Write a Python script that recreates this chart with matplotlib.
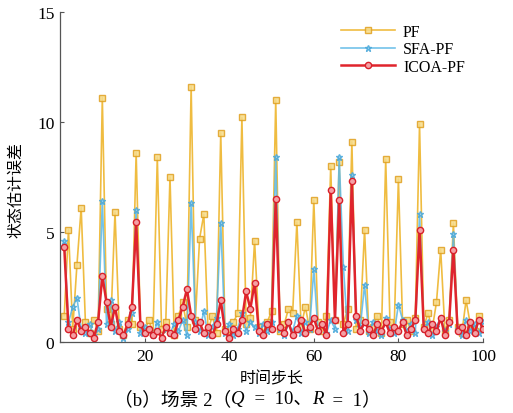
import matplotlib
matplotlib.use("Agg")
import matplotlib.pyplot as plt
import numpy as np

# time steps 1..100
steps = np.arange(1, 101)

pf = [1.2, 5.1, 0.6, 3.5, 6.1, 0.9, 0.4, 1.0, 0.5, 11.1,
      1.5, 0.8, 5.9, 0.6, 0.3, 1.0, 0.8, 8.6, 0.7, 0.5,
      1.0, 0.4, 8.4, 0.6, 0.9, 7.5, 0.3, 1.2, 1.8, 0.7,
      11.6, 1.0, 4.7, 5.8, 0.5, 1.2, 0.4, 9.5, 0.6, 0.3,
      0.9, 1.3, 10.2, 0.8, 1.1, 4.6, 0.7, 0.4, 0.9, 1.4,
      11.0, 0.5, 0.8, 1.5, 1.3, 5.45, 0.7, 1.6, 0.6, 6.45,
      0.9, 0.5, 1.2, 8.0, 1.0, 8.2, 0.8, 1.5, 9.1, 0.6,
      1.0, 5.1, 0.5, 0.7, 1.2, 0.4, 8.3, 0.9, 0.6, 7.4,
      0.8, 1.0, 0.5, 1.1, 9.9, 0.7, 1.3, 0.6, 1.8, 4.2,
      0.5, 1.0, 5.4, 0.7, 0.4, 1.9, 0.8, 0.5, 1.2, 0.6]

sfa_pf = [4.6, 0.9, 1.6, 2.0, 0.6, 0.4, 0.8, 0.3, 0.6, 6.4,
          0.8, 1.9, 0.5, 0.9, 0.2, 0.6, 1.3, 6.0, 0.4, 0.7,
          0.5, 0.3, 0.9, 0.2, 0.6, 0.4, 0.8, 0.5, 1.0, 0.3,
          6.3, 0.9, 0.5, 1.4, 0.3, 0.7, 1.1, 5.4, 0.4, 0.8,
          0.3, 0.6, 1.3, 0.5, 0.9, 0.7, 0.4, 0.8, 0.5, 0.9,
          8.4, 0.6, 0.3, 0.8, 0.5, 1.2, 0.4, 0.9, 0.6, 3.3,
          0.5, 0.8, 0.4, 1.0, 0.6, 8.4, 3.4, 0.5, 7.6, 1.0,
          0.7, 2.6, 0.4, 0.9, 0.5, 0.3, 1.1, 0.6, 0.4, 1.7,
          1.0, 0.5, 0.8, 0.4, 5.8, 0.6, 0.9, 0.3, 0.7, 1.1,
          0.5, 0.8, 4.9, 0.6, 0.3, 1.0, 0.5, 0.8, 0.4, 0.9]

icoa_pf = [4.3, 0.6, 0.3, 1.0, 0.5, 0.7, 0.4, 0.2, 0.9, 3.0,
           1.8, 0.7, 1.6, 0.5, 0.3, 0.8, 1.6, 5.45, 0.8, 0.4,
           0.6, 0.3, 0.5, 0.2, 0.7, 0.4, 0.3, 1.0, 1.6, 2.4,
           1.2, 0.6, 0.9, 0.4, 0.7, 0.3, 0.8, 1.9, 0.5, 0.2,
           0.6, 0.4, 1.0, 2.3, 1.5, 2.7, 0.5, 0.3, 0.8, 0.6,
           6.5, 0.7, 0.4, 0.9, 0.3, 0.6, 1.0, 0.4, 0.7, 1.1,
           0.5, 0.8, 0.3, 6.9, 1.0, 6.45, 0.4, 0.8, 7.3, 1.2,
           0.5, 0.9, 0.6, 0.3, 0.8, 0.5, 0.9, 0.4, 0.7, 0.5,
           0.9, 0.3, 0.6, 1.0, 5.1, 0.6, 0.4, 0.8, 0.5, 1.1,
           0.3, 0.9, 4.2, 0.5, 0.7, 0.3, 0.9, 0.4, 1.0, 0.6]

SERIF = ["Liberation Serif", "Noto Sans CJK SC"]
CJK = ["Noto Sans CJK SC", "DejaVu Sans"]

fig = plt.figure(figsize=(5.13, 4.14), dpi=100)
ax = fig.add_axes([0.117, 0.1715, 0.8245, 0.7975])

ax.plot(steps, pf, color="#EDB120", lw=1.2, marker="s", ms=4,
        mfc="#F7DC8A", mec="#E0A020", label="PF", alpha=0.85)
ax.plot(steps, sfa_pf, color="#5BB8E6", lw=1.2, marker="*", ms=5,
        mfc="#9FD5F0", mec="#4AA8DA", label="SFA-PF", alpha=0.85)
ax.plot(steps, icoa_pf, color="#E0242C", lw=1.8, marker="o", ms=4.5,
        mfc="#F4A0A4", mec="#D8202A", label="ICOA-PF")

ax.set_xlim(0, 100)
ax.set_ylim(0, 15)
ax.set_xticks([20, 40, 60, 80, 100])
ax.set_yticks([0, 5, 10, 15])
ax.tick_params(direction="in", length=3, labelsize=12.5, color="#555555",
               pad=4)
for lab in ax.get_xticklabels() + ax.get_yticklabels():
    lab.set_family(SERIF)
for side in ("top", "right"):
    ax.spines[side].set_visible(False)
for side in ("left", "bottom"):
    ax.spines[side].set_color("#555555")
    ax.spines[side].set_linewidth(0.9)

fig.text(0.53, 0.085, "时间步长", family=CJK, fontsize=11.5,
         ha="center", va="center")
fig.text(0.03, 0.54, "状态估计误差", family=CJK, fontsize=11.5,
         ha="center", va="center", rotation=90)

ax.legend(loc="upper right", bbox_to_anchor=(0.976, 0.988), frameon=False,
          prop={"family": SERIF, "size": 11.5}, handlelength=3.4,
          handletextpad=0.5, labelspacing=0.1, borderaxespad=0.1)

# caption: （b）场景 2（Q = 10、R = 1）, Q and R in italics
parts = [("（b）场景 2（", "normal"), ("Q", "italic"), ("  =  10、", "normal"),
         ("R", "italic"), ("  =  1）", "normal")]
first = len(fig.texts)
for txt, style in parts:
    fig.text(0.222, 0.034, txt, family=SERIF, fontsize=13.5, style=style,
             ha="left", va="center")
fig.canvas.draw()
renderer = fig.canvas.get_renderer()
x = fig.texts[first].get_window_extent(renderer).x0
for t in fig.texts[first:]:
    t.set_position((x / fig.bbox.width, 0.034))
    fig.canvas.draw()
    x = t.get_window_extent(renderer).x1

fig.savefig("out.png", dpi=100, facecolor="white")
